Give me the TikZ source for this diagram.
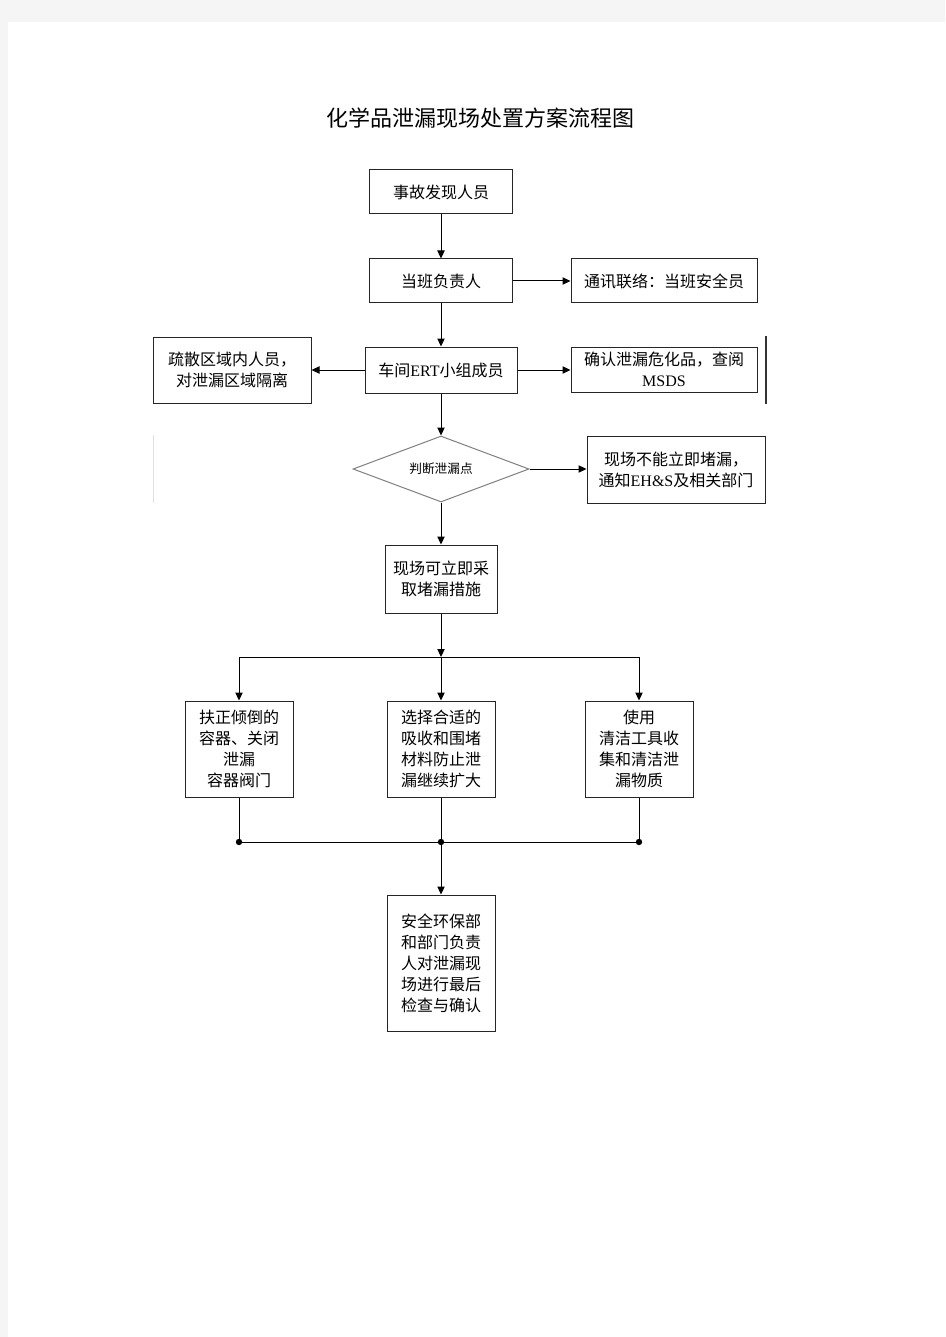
\documentclass[tikz,border=0pt]{standalone}
\usepackage{fontspec}
\setmainfont{Liberation Serif}
\newfontfamily\cjk{Noto Sans CJK SC}
\usetikzlibrary{calc,positioning,arrows.meta,shapes.geometric}

\newcommand{\boxfont}{\cjk\fontsize{12}{15.75}\selectfont}

\begin{document}
\begin{tikzpicture}[
      x=0.75pt, y=-0.75pt,
      box/.style={draw=black!85, line width=0.75pt, fill=white, align=center, inner sep=1pt, font=\boxfont},
      judgebox/.style={diamond, aspect=2.67, draw=black!50, line width=0.75pt, fill=white, inner sep=0pt, minimum width=132pt, minimum height=49.5pt, font=\cjk\fontsize{9.5}{12}\selectfont},
      arr/.style={-{Triangle[length=6pt,width=5.5pt]}, line width=0.75pt},
      line/.style={line width=0.75pt}
    ]
    % page and margins
    \useasboundingbox (0,0) rectangle (945,1337);
    \fill[black!4] (0,0) rectangle (945,1337);
    \fill[white] (8,22) rectangle (945,1337);

    % Title
    \node[font=\cjk\fontsize{16.5}{20}\selectfont] (title) at (480,118) {化学品泄漏现场处置方案流程图};

    % Row 1 & 2
    \node[box, minimum width=107.25pt, minimum height=33pt] (fault) at (441,192) {事故发现人员};
    \node[box, minimum width=107.25pt, minimum height=33pt] (duty)  at (441,281) {当班负责人};
    \node[box, minimum width=139.5pt, minimum height=33pt]  (comm)  at (664,281) {通讯联络：当班安全员};

    % Row 3: ERT members with two side tasks
    \node[box, minimum width=114pt, minimum height=34.5pt]   (ert)  at (441,370) {车间{\rmfamily ERT}小组成员};
    \node[box, minimum width=118.5pt, minimum height=49.5pt] (evac) at (232,370) {疏散区域内人员，\\对泄漏区域隔离};
    \node[box, minimum width=139.5pt, minimum height=33.75pt] (msds) at (664,369.5) {确认泄漏危化品，查阅\\{\rmfamily MSDS}};

    % Row 4: decision
    \node[judgebox] (judge) at (441,469) {判断泄漏点};
    \node[box, minimum width=133.5pt, minimum height=50.25pt] (notify) at (676,469.5) {现场不能立即堵漏，\\通知{\rmfamily EH\&S}及相关部门};

    % Row 5
    \node[box, minimum width=84pt, minimum height=51pt] (onsite) at (441,579) {现场可立即采\\取堵漏措施};

    % Row 6: three measures
    \node[box, minimum width=81pt, minimum height=72pt] (fix)    at (239,749) {扶正倾倒的\\容器、关闭\\泄漏\\容器阀门};
    \node[box, minimum width=81pt, minimum height=72pt] (absorb) at (441,749) {选择合适的\\吸收和围堵\\材料防止泄\\漏继续扩大};
    \node[box, minimum width=81pt, minimum height=72pt] (clean)  at (639,749) {使用\\清洁工具收\\集和清洁泄\\漏物质};

    % Row 7: final check
    \node[box, minimum width=81pt, minimum height=102pt] (final) at (441,963) {安全环保部\\和部门负责\\人对泄漏现\\场进行最后\\检查与确认};

    % split and join points
    \coordinate (split)  at (441,657);
    \coordinate (splitL) at (239,657);
    \coordinate (splitR) at (639,657);
    \coordinate (join)   at (441,842);
    \coordinate (joinL)  at (239,842);
    \coordinate (joinR)  at (639,842);

    % Arrows
    \draw[arr] (fault) -- (duty);
    \draw[arr] (duty) -- (comm);
    \draw[arr] (duty) -- (ert);
    \draw[arr] (ert) -- (evac);
    \draw[arr] (ert) -- (msds.west |- ert);
    \draw[arr] (ert) -- (judge);
    \draw[arr] (judge) -- (notify.west |- judge);
    \draw[arr] (judge) -- (onsite);
    \draw[arr] (onsite) -- (split);
    \draw[line] (splitL) -- (splitR);
    \draw[arr] (splitL) -- (fix);
    \draw[arr] (split) -- (absorb);
    \draw[arr] (splitR) -- (clean);
    \draw[line] (fix) -- (joinL);
    \draw[line] (absorb) -- (join);
    \draw[line] (clean) -- (joinR);
    \draw[line] (joinL) -- (joinR);
    \draw[arr] (join) -- (final);
    \foreach \p in {joinL,join,joinR}
      \fill (\p) circle (2.4pt);

    % stray rules at the sides
    \draw[line width=0.9pt, black!80] (766,336) -- (766,404);
    \draw[line width=0.75pt, black!12] (153,435) -- (153,503);
  \end{tikzpicture}
\end{document}
